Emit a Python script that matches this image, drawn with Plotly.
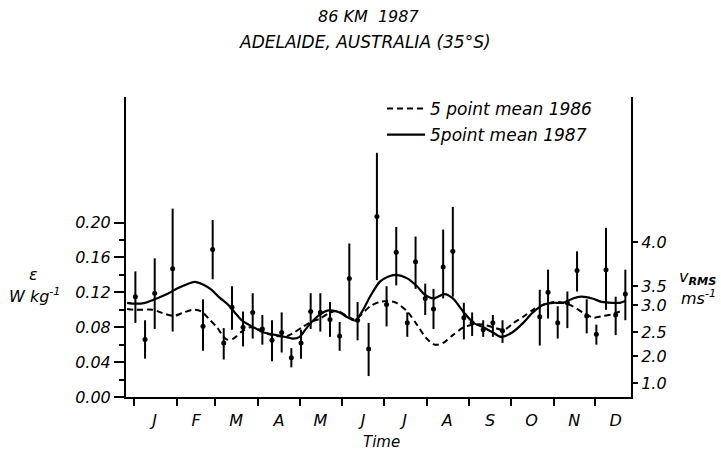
import plotly.graph_objects as go

# ---------------- data ----------------
month_labels = ["J", "F", "M", "A", "M", "J", "J", "A", "S", "O", "N", "D"]
month_starts = [0, 31, 59, 90, 120, 151, 181, 212, 243, 273, 304, 334]
month_mids = [15, 45, 74, 105, 135, 166, 196, 227, 258, 288, 319, 349]

eps_ticks = [0.00, 0.04, 0.08, 0.12, 0.16, 0.20]
eps_minor = [0.02, 0.06, 0.10, 0.14, 0.18]

# right-hand V_RMS scale (labels and their positions on the epsilon scale)
vrms_labels = ["4.0", "3.5", "3.0", "2.5", "2.0", "1.0"]
vrms_pos = [0.1778, 0.1273, 0.1055, 0.0745, 0.0470, 0.0161]

# individual measurements (day of year, epsilon, error-bar top, error-bar bottom)
obs_day = [1, 8, 15, 28, 50, 57, 65, 71, 79, 86, 93, 100, 107, 114, 121, 128, 135, 142, 149, 156,
           162, 170, 176, 183, 190, 198, 204, 211, 217, 224, 231, 239, 245, 253, 260, 267, 294, 300,
           307, 314, 321, 328, 335, 342, 349, 356]
obs_eps = [0.115, 0.066, 0.119, 0.147, 0.081, 0.169, 0.062, 0.103, 0.080, 0.097, 0.078, 0.065, 0.074,
           0.045, 0.062, 0.098, 0.097, 0.089, 0.070, 0.136, 0.088, 0.055, 0.207, 0.106, 0.166, 0.085,
           0.155, 0.113, 0.101, 0.149, 0.167, 0.091, 0.085, 0.077, 0.085, 0.076, 0.092, 0.120, 0.085,
           0.108, 0.145, 0.093, 0.072, 0.146, 0.094, 0.118]
obs_hi = [0.144, 0.088, 0.159, 0.216, 0.112, 0.203, 0.079, 0.127, 0.098, 0.119, 0.094, 0.088, 0.097,
          0.056, 0.077, 0.119, 0.119, 0.109, 0.086, 0.176, 0.109, 0.085, 0.280, 0.127, 0.195, 0.097,
          0.184, 0.130, 0.124, 0.192, 0.218, 0.108, 0.097, 0.088, 0.094, 0.088, 0.123, 0.146, 0.104,
          0.121, 0.167, 0.112, 0.083, 0.194, 0.115, 0.146]
obs_lo = [0.085, 0.044, 0.078, 0.075, 0.053, 0.135, 0.043, 0.077, 0.058, 0.067, 0.060, 0.041, 0.051,
          0.034, 0.044, 0.078, 0.075, 0.069, 0.053, 0.092, 0.065, 0.024, 0.134, 0.081, 0.128, 0.069,
          0.124, 0.094, 0.078, 0.113, 0.115, 0.066, 0.070, 0.069, 0.069, 0.062, 0.059, 0.090, 0.067,
          0.079, 0.121, 0.073, 0.060, 0.100, 0.071, 0.088]

# 5 point running mean 1987 (solid)
mean87_day = [-5, 1, 8, 15, 24, 32, 38, 44, 50, 56, 62, 68, 73, 78, 83, 89, 94, 100, 106, 112,
              115, 120, 125, 130, 135, 140, 144, 149, 154, 159, 161, 166, 171, 178, 184, 190, 198, 205, 211, 217,
              225, 231, 239, 246, 253, 260, 266, 274, 282, 289, 297, 304, 311, 318, 324, 332, 339, 347, 352, 356]
mean87_eps = [0.108, 0.107, 0.108, 0.112, 0.118, 0.125, 0.129, 0.132, 0.129, 0.123, 0.114, 0.106, 0.097,
              0.088, 0.083, 0.078, 0.074, 0.072, 0.070, 0.068, 0.067, 0.069, 0.079, 0.088, 0.095, 0.099,
              0.099, 0.097, 0.092, 0.088, 0.088, 0.100, 0.115, 0.132, 0.138, 0.140, 0.136, 0.127, 0.117,
              0.113, 0.118, 0.113, 0.097, 0.085, 0.080, 0.074, 0.069, 0.074, 0.085, 0.097, 0.106, 0.108,
              0.108, 0.113, 0.115, 0.113, 0.109, 0.108, 0.108, 0.110]

# 5 point running mean 1986 (dashed)
mean86_day = [-5, 1, 14, 21, 29, 36, 43, 49, 54, 60, 67, 72, 78, 84, 90, 96, 103, 111, 115, 122,
              128, 135, 141, 147, 154, 160, 165, 171, 178, 184, 190, 198, 205, 212, 218, 224, 231, 239, 246, 253,
              260, 268, 275, 282, 289, 297, 304, 311, 318, 326, 333, 340, 347, 352]
mean86_eps = [0.101, 0.100, 0.100, 0.096, 0.093, 0.097, 0.100, 0.098, 0.090, 0.080, 0.066, 0.067, 0.075,
              0.080, 0.078, 0.073, 0.070, 0.070, 0.073, 0.080, 0.086, 0.090, 0.096, 0.099, 0.093, 0.089,
              0.095, 0.104, 0.109, 0.110, 0.108, 0.098, 0.083, 0.067, 0.060, 0.062, 0.071, 0.080, 0.083,
              0.083, 0.080, 0.077, 0.085, 0.092, 0.100, 0.106, 0.109, 0.108, 0.104, 0.096, 0.091, 0.093,
              0.095, 0.098]

# ---------------- figure ----------------
FONT = "DejaVu Sans"
Y_RANGE = [0.0, 0.344]
X_RANGE = [-5.8, 360.1]

err_plus = [h - v for h, v in zip(obs_hi, obs_eps)]
err_minus = [v - l for v, l in zip(obs_eps, obs_lo)]

fig = go.Figure()

fig.add_trace(go.Scatter(
    x=obs_day, y=obs_eps, mode="markers", showlegend=False,
    marker=dict(color="black", size=5),
    error_y=dict(type="data", symmetric=False, array=err_plus, arrayminus=err_minus,
                 color="black", thickness=2, width=0),
))

fig.add_trace(go.Scatter(
    x=mean86_day, y=mean86_eps, mode="lines", name="5 point mean 1986",
    line=dict(color="black", width=2, dash="6px,4px", shape="spline", smoothing=0.8),
    legendgroup="a",
))
fig.add_trace(go.Scatter(
    x=mean87_day, y=mean87_eps, mode="lines", name="5point mean 1987",
    line=dict(color="black", width=2.2, shape="spline", smoothing=0.8),
    legendgroup="b",
))
# carrier for the right-hand axis
fig.add_trace(go.Scatter(x=[None], y=[None], yaxis="y2", showlegend=False, hoverinfo="skip"))

tickfont = dict(family=FONT, size=16, color="black", style="italic")

fig.update_layout(
    template="none",
    width=721, height=454,
    margin=dict(l=126, r=90, t=97, b=57, autoexpand=False),
    paper_bgcolor="white", plot_bgcolor="white",
    font=dict(family=FONT, size=14, color="black", style="italic"),
    showlegend=True,
    legend=dict(x=0.507, y=1.02, xanchor="left", yanchor="top",
                bgcolor="rgba(0,0,0,0)", borderwidth=0,
                font=dict(family=FONT, size=17, style="italic"),
                tracegroupgap=1, itemwidth=38),
    xaxis=dict(
        range=X_RANGE, showgrid=False, zeroline=False, automargin=False,
        showline=True, linecolor="black", linewidth=2,
        tickmode="array", tickvals=month_mids, ticktext=month_labels,
        ticks="outside", ticklen=0, ticklabelstandoff=8, tickfont=tickfont,
        minor=dict(tickmode="array", tickvals=month_starts, ticks="outside",
                   ticklen=7, tickwidth=1.5, tickcolor="black", showgrid=False),
    ),
    yaxis=dict(
        range=Y_RANGE, showgrid=False, zeroline=False, automargin=False,
        showline=True, linecolor="black", linewidth=2,
        tickmode="array", tickvals=eps_ticks, ticktext=[f"{v:.2f}" for v in eps_ticks],
        ticks="outside", ticklen=10, tickwidth=1.5, tickcolor="black", tickfont=tickfont,
        minor=dict(tickmode="array", tickvals=eps_minor, ticks="outside",
                   ticklen=5, tickwidth=1.5, tickcolor="black", showgrid=False),
    ),
    yaxis2=dict(
        range=Y_RANGE, overlaying="y", side="right", anchor="x", automargin=False,
        showgrid=False, zeroline=False,
        showline=True, linecolor="black", linewidth=2,
        tickmode="array", tickvals=vrms_pos, ticktext=vrms_labels,
        ticks="outside", ticklen=5, tickwidth=1.5, tickcolor="black", tickfont=tickfont,
    ),
)

ann = [
    dict(text="86 KM  1987", x=0.481, y=1.267, font=dict(size=16)),
    dict(text="ADELAIDE, AUSTRALIA (35°S)", x=0.473, y=1.183, font=dict(size=17)),
    dict(text="ε", x=-0.184, y=0.407, font=dict(size=16)),
    dict(text="W kg<sup>-1</sup>", x=-0.182, y=0.340, font=dict(size=16)),
    dict(text="v<sub><b>RMS</b></sub>", x=1.131, y=0.400, font=dict(size=16)),
    dict(text="ms<sup>-1</sup>", x=1.133, y=0.333, font=dict(size=16)),
    dict(text="Time", x=0.505, y=-0.15, font=dict(size=15)),
]
for a in ann:
    f = dict(family=FONT, color="black", style="italic")
    f.update(a.pop("font"))
    fig.add_annotation(xref="paper", yref="paper", xanchor="center", yanchor="middle",
                       showarrow=False, font=f, **a)

fig.write_html(
    "out.html",
    config={"displayModeBar": False},
    post_script="document.body.style.margin='0';document.body.style.padding='0';",
)
